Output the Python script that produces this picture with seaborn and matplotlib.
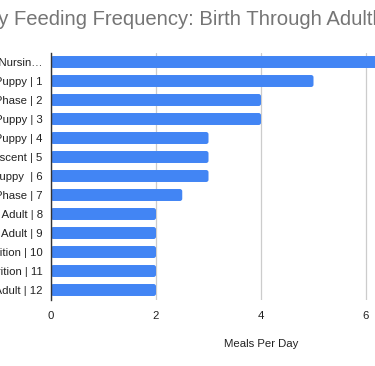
import matplotlib
matplotlib.use('Agg')
import matplotlib.pyplot as plt
from matplotlib.patches import FancyBboxPatch
import seaborn as sns
import pandas as pd

stages = [
    'Newborn Nursin…',
    'Weaning Puppy | 1',
    'Transition Phase | 2',
    'Young Puppy | 3',
    'Growing Puppy | 4',
    'Early Adolescent | 5',
    'Older Puppy  | 6',
    'Juvenile Phase | 7',
    'Young Adult | 8',
    'Mature Adult | 9',
    'Adult Nutrition | 10',
    'Senior Nutrition | 11',
    'Senior Adult | 12',
]
meals = [8, 5, 4, 4, 3, 3, 3, 2.5, 2, 2, 2, 2, 2]
xticks = [0, 2, 4, 6, 8]

df = pd.DataFrame({'stage': stages, 'meals': meals})

sns.set_theme(style='white')
plt.rcParams['font.family'] = ['Liberation Sans', 'DejaVu Sans']

fig = plt.figure(figsize=(3.75, 3.66), dpi=100)
# axes run past the right edge, as in the cropped original
ax = fig.add_axes([51 / 375, 1 - 299.5 / 366, 420 / 375, 247 / 366])
sns.barplot(data=df, x='meals', y='stage', orient='h', color='#4285F4',
            width=0.63, saturation=1, ax=ax)

# rounded bar corners
for p in list(ax.patches):
    x, y, w, h = p.get_x(), p.get_y(), p.get_width(), p.get_height()
    rb = FancyBboxPatch((x, y), w, h, boxstyle='round,pad=0,rounding_size=0.045',
                        mutation_aspect=2.7, facecolor='#4285F4',
                        edgecolor='none', zorder=p.get_zorder())
    p.remove()
    ax.add_patch(rb)

ax.set_xlim(0, 8)
ax.set_xticks(xticks)
ax.grid(axis='x', color='#cccccc', linewidth=0.9)
ax.set_axisbelow(True)
for s in ['top', 'right', 'bottom']:
    ax.spines[s].set_visible(False)
ax.spines['left'].set_color('#333333')
ax.spines['left'].set_linewidth(1)
ax.spines['left'].set_zorder(5)
ax.tick_params(axis='y', length=0, labelsize=8.2, colors='#222222', pad=6)
ax.tick_params(axis='x', length=0, labelsize=8.2, colors='#222222', pad=8)
ax.set_ylabel('')
ax.set_xlabel('Meals Per Day', fontsize=8.2, color='#222222', labelpad=13)

fig.text(-0.131, 1 - 25 / 366, 'Puppy Feeding Frequency: Birth Through Adulthood',
         fontsize=14.6, color='#757575', ha='left', va='baseline')

fig.savefig('out.png', dpi=100)
plt.close(fig)
